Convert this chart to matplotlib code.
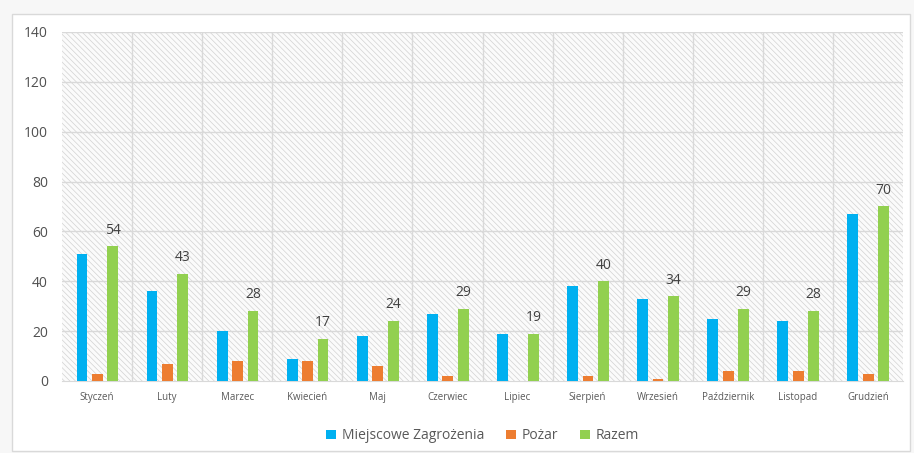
import numpy as np
import matplotlib.pyplot as plt
from matplotlib.patches import Rectangle

plt.rcParams["font.family"] = ["Open Sans", "DejaVu Sans"]
plt.rcParams["hatch.color"] = "#d4d4d4"
plt.rcParams["hatch.linewidth"] = 0.5

# ---------------- data ----------------
months = ["Styczeń", "Luty", "Marzec", "Kwiecień", "Maj", "Czerwiec", "Lipiec",
          "Sierpień", "Wrzesień", "Październik", "Listopad", "Grudzień"]
miejscowe = [51, 36, 20, 9, 18, 27, 19, 38, 33, 25, 24, 67]
pozar = [3, 7, 8, 8, 6, 2, 0, 2, 1, 4, 4, 3]
razem = [54, 43, 28, 17, 24, 29, 19, 40, 34, 29, 28, 70]

# ---------------- plot ----------------
fig = plt.figure(figsize=(9.14, 4.53), dpi=100)
fig.patch.set_facecolor("#f7f7f7")
frame = Rectangle((12 / 914, 2 / 453), 898 / 914, 437 / 453,
                  transform=fig.transFigure, facecolor="white",
                  edgecolor="#d9d9d9", linewidth=1.0, zorder=-10)
fig.patches.append(frame)

ax = fig.add_axes([62 / 914, 1 - 381 / 453, 841 / 914, 349 / 453])
ax.set_zorder(1)
ax.patch.set_facecolor("#fbfbfb")
ax.patch.set_hatch("\\" * 6)
ax.patch.set_edgecolor("#d2d2d2")
ax.patch.set_linewidth(0)

x = np.arange(len(months))
w = 0.155
ax.bar(x - 0.215, miejscowe, w, color="#00B0F0", label="Miejscowe Zagrożenia", zorder=3)
ax.bar(x + 0.005, pozar, w, color="#ED7D31", label="Pożar", zorder=3)
ax.bar(x + 0.225, razem, w, color="#92D050", label="Razem", zorder=3)

for xi, v in zip(x, razem):
    ax.text(xi + 0.225, v + 3.5, f"{v}", ha="center", va="bottom",
            fontsize=10, color="#404040", zorder=4)

for yv in range(20, 141, 20):
    ax.axhline(yv, color="#d9d9d9", linewidth=1.0, zorder=1)
for xv in np.arange(0.5, len(months) - 0.5, 1.0):
    ax.axvline(xv, color="#d9d9d9", linewidth=1.0, zorder=1)

ax.set_xlim(-0.5, len(months) - 0.5)
ax.set_ylim(0, 140)
ax.set_yticks(range(0, 141, 20))
ax.set_xticks(x)
ax.set_xticklabels(months, fontsize=7, color="#595959")
ax.tick_params(axis="y", labelsize=10, labelcolor="#505050", length=0, pad=10)
ax.tick_params(axis="x", length=0, pad=8)

for s in ["top", "right", "left"]:
    ax.spines[s].set_visible(False)
ax.spines["bottom"].set_color("#d9d9d9")

ax.legend(loc="upper center", bbox_to_anchor=(0.5, -0.1), ncol=3, frameon=False,
          fontsize=10, handlelength=0.7, handleheight=0.7, handletextpad=0.4,
          columnspacing=1.6, labelcolor="#595959")

plt.savefig("out.png", dpi=100)
